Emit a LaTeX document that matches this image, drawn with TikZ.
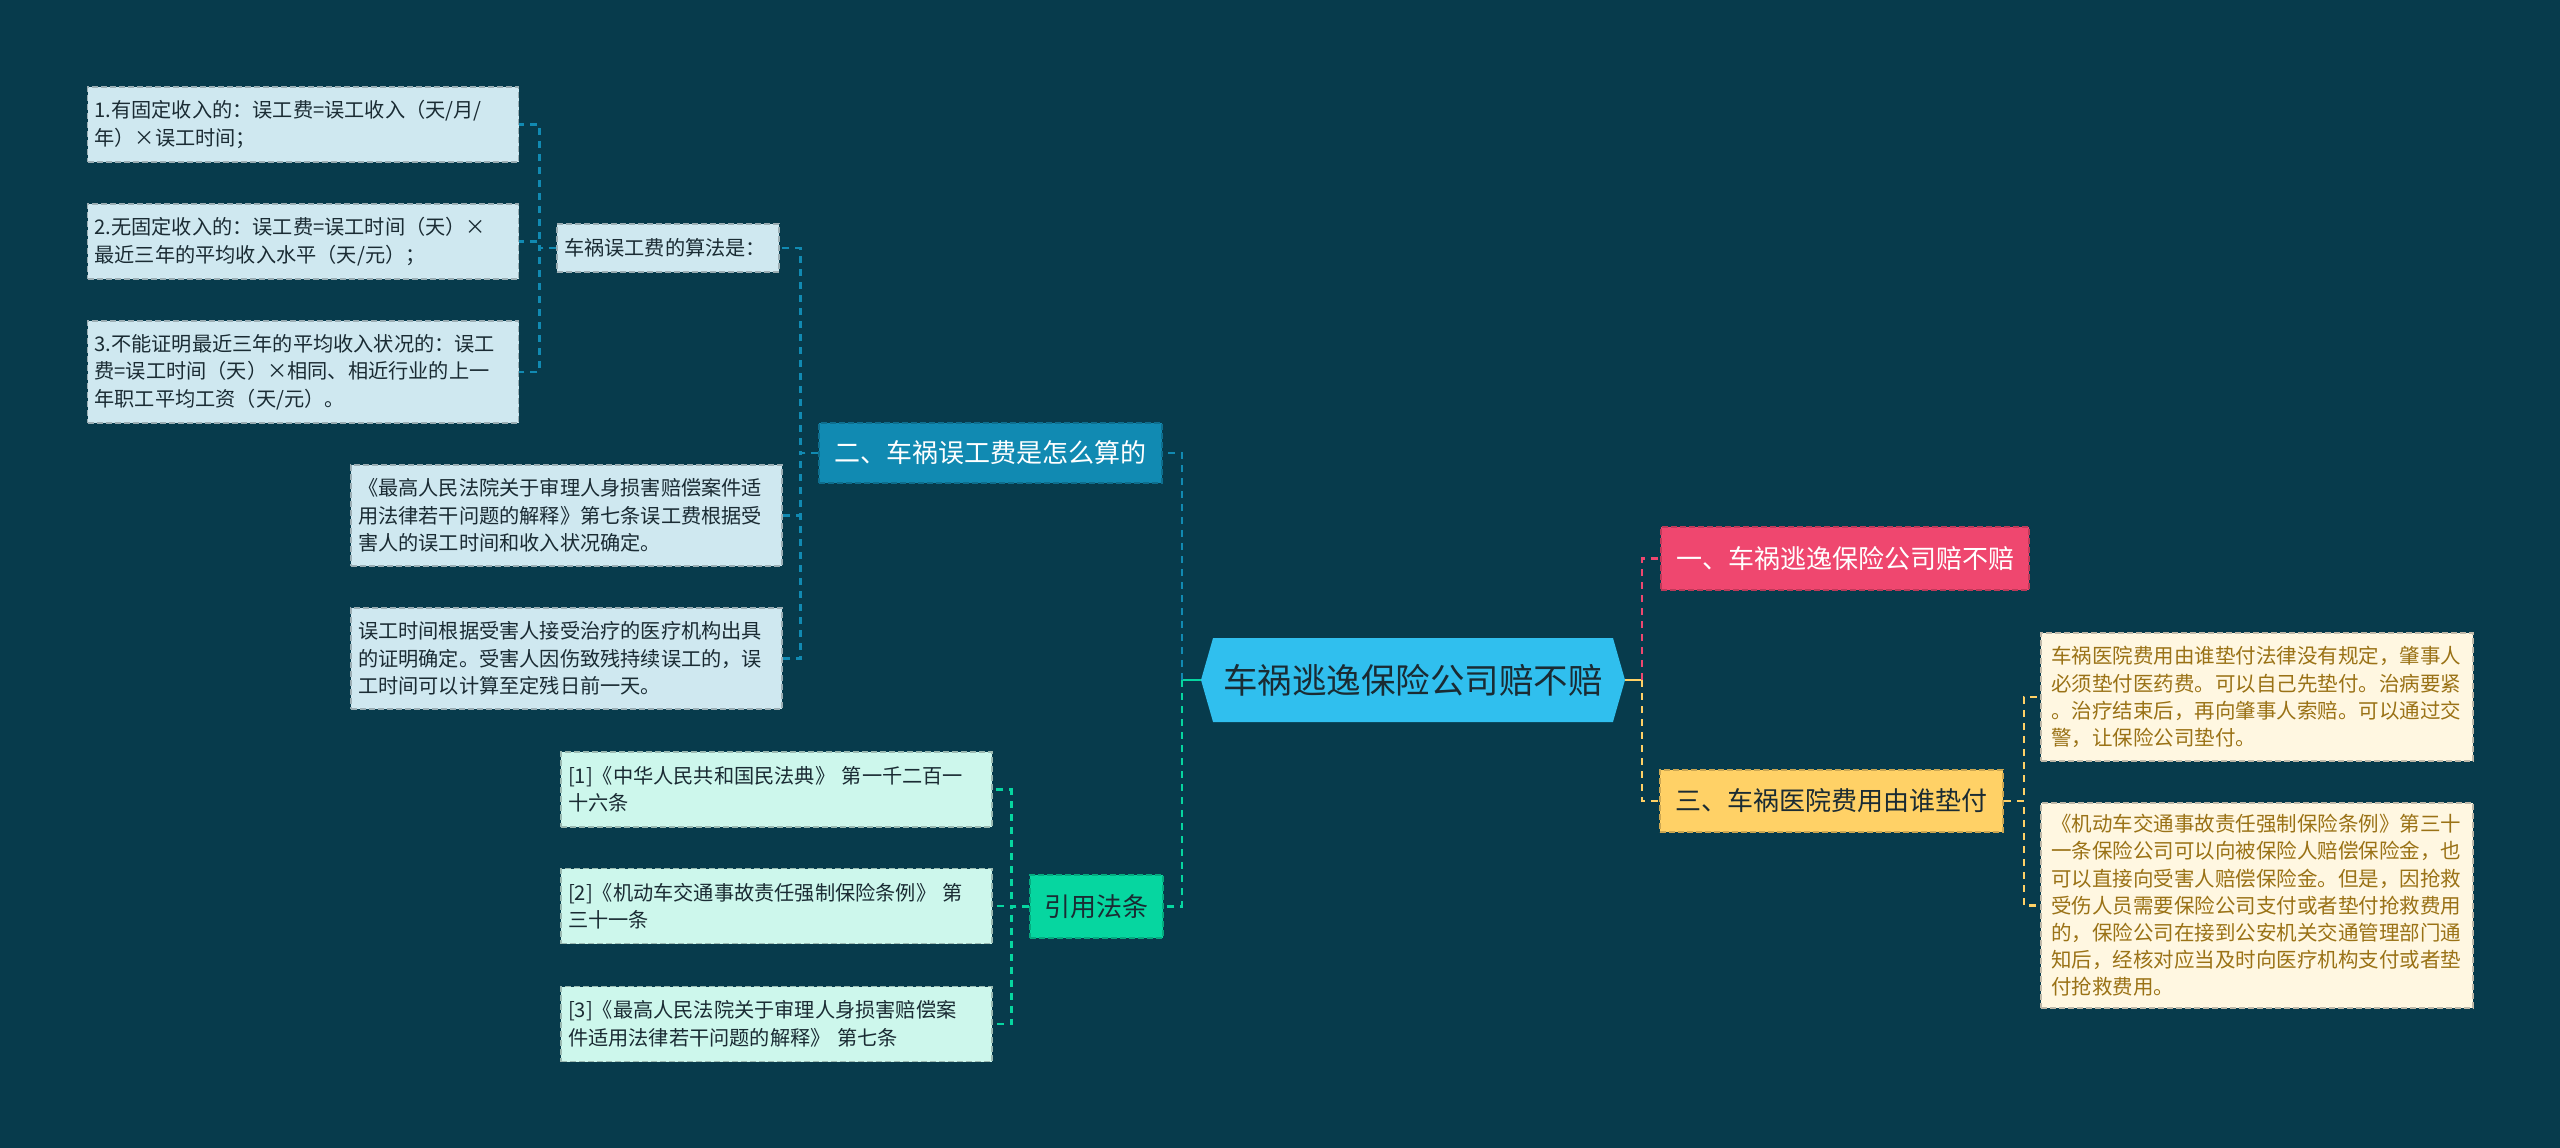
\documentclass[tikz,border=0pt]{standalone}
\usepackage{fontspec}
\setmainfont{Noto Sans CJK SC}
\usetikzlibrary{shapes.symbols}
\definecolor{bgc}{HTML}{073B4C}
\definecolor{rootc}{HTML}{30BFEE}
\definecolor{bluec}{HTML}{118AB2}
\definecolor{pinkc}{HTML}{EF476F}
\definecolor{yellowc}{HTML}{FFD166}
\definecolor{greenc}{HTML}{06D6A0}
\definecolor{lbfill}{HTML}{CFE8F0}
\definecolor{lgfill}{HTML}{CDF7EC}
\definecolor{lyfill}{HTML}{FFF7E1}
\definecolor{darktext}{HTML}{1A2B33}
\definecolor{browntext}{HTML}{9A7216}
\begin{document}
\begin{tikzpicture}[x=1pt,y=-1pt,
    box/.style={draw,dash pattern=on 6pt off 3pt,line width=1.5pt,inner xsep=10pt,inner ysep=8pt,align=left},
    leafb/.style={box,inner xsep=7pt,fill=lbfill,draw=lbfill!75!black,text=darktext,text width=417pt,font=\fontsize{20.2}{27.5}\selectfont},
    leafg/.style={box,inner xsep=7pt,fill=lgfill,draw=lgfill!75!black,text=darktext,text width=417pt,font=\fontsize{20.2}{27.5}\selectfont},
    leafy/.style={box,fill=lyfill,draw=lyfill!75!black,text=browntext,text width=412pt,font=\fontsize{20.5}{27.2}\selectfont},
    branch/.style={box,align=center,font=\fontsize{26}{30}\selectfont},
    link/.style={line width=2.5pt,dash pattern=on 7pt off 6pt},
    solidl/.style={line width=2.5pt}]
        \useasboundingbox(0,0)rectangle(2560,1148);
        \fill[bgc](0,0)rectangle(2560,1148);

        \node[shape=signal,signal to=east and west,signal pointer angle=148,fill=rootc,text=darktext,minimum width=424pt,minimum height=84pt,font=\fontsize{34.5}{38}\selectfont](root)at(1413,680){车祸逃逸保险公司赔不赔};

        \node[branch,fill=bluec,draw=bluec!80!black,text=white,minimum width=343pt,minimum height=60pt](b2)at(990.5,453){二、车祸误工费是怎么算的};
        \node[branch,fill=greenc,draw=greenc!80!black,text=darktext,minimum width=133pt,minimum height=63pt](b4)at(1096.5,906.5){引用法条};
        \node[branch,fill=pinkc,draw=pinkc!80!black,text=white,minimum width=368pt,minimum height=63pt](b1)at(1845,558.5){一、车祸逃逸保险公司赔不赔};
        \node[branch,fill=yellowc,draw=yellowc!80!black,text=darktext,minimum width=343pt,minimum height=62pt](b3)at(1831.5,801){三、车祸医院费用由谁垫付};

        \node[leafb,text width=208pt,minimum height=48pt](s1)at(668,248){车祸误工费的算法是：};
        \node[leafb,minimum height=75pt](l1)at(303,124.5){1.有固定收入的：误工费=误工收入（天/月/\\年）×误工时间；};
        \node[leafb,minimum height=75pt](l2)at(303,241.5){2.无固定收入的：误工费=误工时间（天）×\\最近三年的平均收入水平（天/元）；};
        \node[leafb,minimum height=102pt](l3)at(303,372){3.不能证明最近三年的平均收入状况的：误工\\费=误工时间（天）×相同、相近行业的上一\\年职工平均工资（天/元）。};
        \node[leafb,minimum height=101pt](m1)at(566.5,515.5){《最高人民法院关于审理人身损害赔偿案件适\\用法律若干问题的解释》第七条误工费根据受\\害人的误工时间和收入状况确定。};
        \node[leafb,minimum height=101pt](m2)at(566.5,658.5){误工时间根据受害人接受治疗的医疗机构出具\\的证明确定。受害人因伤致残持续误工的，误\\工时间可以计算至定残日前一天。};

        \node[leafg,minimum height=75pt](c1)at(776.5,789.5){[1]《中华人民共和国民法典》~第一千二百一\\十六条};
        \node[leafg,minimum height=75pt](c2)at(776.5,906){[2]《机动车交通事故责任强制保险条例》~第\\三十一条};
        \node[leafg,minimum height=75pt](c3)at(776.5,1024){[3]《最高人民法院关于审理人身损害赔偿案\\件适用法律若干问题的解释》~第七条};

        \node[leafy,minimum height=128pt](r1)at(2257,697){车祸医院费用由谁垫付法律没有规定，肇事人\\必须垫付医药费。可以自己先垫付。治病要紧\\。治疗结束后，再向肇事人索赔。可以通过交\\警，让保险公司垫付。};
        \node[leafy,minimum height=205pt](r2)at(2257,905.5){《机动车交通事故责任强制保险条例》第三十\\一条保险公司可以向被保险人赔偿保险金，也\\可以直接向受害人赔偿保险金。但是，因抢救\\受伤人员需要保险公司支付或者垫付抢救费用\\的，保险公司在接到公安机关交通管理部门通\\知后，经核对应当及时向医疗机构支付或者垫\\付抢救费用。};

        \coordinate(jl)at([xshift=-19pt]root.west);
        \coordinate(jr)at([xshift=17pt]root.east);
        \draw[solidl,greenc](root.west)--(jl);
        \draw[link,bluec](jl)|-(b2.east);
        \draw[link,greenc](jl)|-(b4.east);
        \draw[solidl,yellowc](root.east)--(jr);
        \draw[link,pinkc](jr)|-(b1.west);
        \draw[link,yellowc](jr)|-(b3.west);
        \foreach \n in {s1,m1,m2} \draw[link,bluec](b2.west)--++(-18,0)|-(\n.east);
        \foreach \n in {l1,l2,l3} \draw[link,bluec](s1.west)--++(-17,0)|-(\n.east);
        \foreach \n in {c1,c2,c3} \draw[link,greenc](b4.west)--++(-18,0)|-(\n.east);
        \foreach \n in {r1,r2} \draw[link,yellowc](b3.east)--++(20,0)|-(\n.west);
    \end{tikzpicture}
\end{document}
